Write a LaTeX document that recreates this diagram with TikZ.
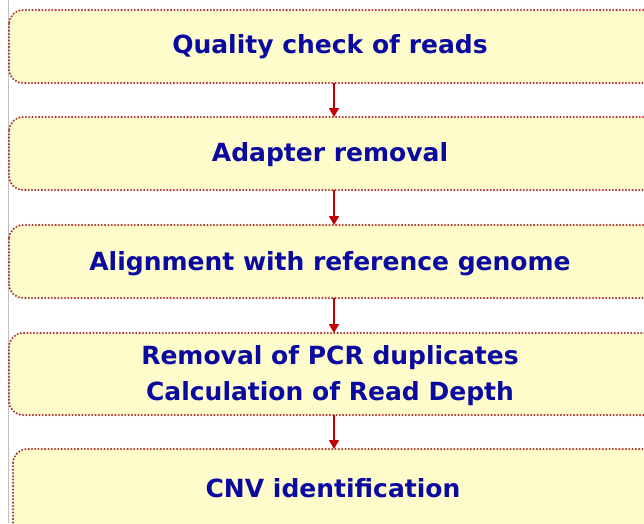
\documentclass[tikz,border=0pt]{standalone}
\usepackage{fontspec}
\setmainfont{DejaVu Sans}
\usetikzlibrary{arrows.meta}
\definecolor{boxfill}{HTML}{FFFCCC}
\definecolor{boxline}{HTML}{A83232}
\definecolor{arrowcol}{HTML}{C00000}
\definecolor{txt}{HTML}{0A0AA0}
\tikzset{
  stepbox/.style={draw=boxline, fill=boxfill, line width=2.3pt, line cap=round, dash pattern=on 0pt off 3.3pt, rounded corners=14pt},
  steptext/.style={font=\fontsize{25}{36}\selectfont\bfseries, text=txt, align=center},
  flow/.style={draw=arrowcol, line width=1.6pt, -{Triangle[length=9pt,width=10pt]}}
}
\begin{document}
\begin{tikzpicture}[x=1pt,y=-1pt]
\useasboundingbox (0,0) rectangle (644,523);
\fill[white] (0,0) rectangle (644,523);
\begin{scope}
\clip (0,0) rectangle (644,523);
\draw[gray!50, line width=1pt] (8,0) -- (8,523);
\draw[stepbox] (9,10) rectangle (680,83);
\draw[stepbox] (9,117) rectangle (680,190);
\draw[stepbox] (9,225) rectangle (680,298);
\draw[stepbox] (9,333) rectangle (680,415);
\draw[stepbox] (13,449) rectangle (680,560);
\end{scope}
\coordinate (b1) at (334,83);
\coordinate (t2) at (334,117);
\coordinate (b2) at (334,190);
\coordinate (t3) at (334,225);
\coordinate (b3) at (334,298);
\coordinate (t4) at (334,333);
\coordinate (b4) at (334,415);
\coordinate (t5) at (334,449);
\node[steptext] (n1) at (330,47) {Quality check of reads};
\node[steptext] (n2) at (330,155) {Adapter removal};
\node[steptext] (n3) at (330,264) {Alignment with reference genome};
\node[steptext] (n4) at (330,376) {Removal of PCR duplicates\\Calculation of Read Depth};
\node[steptext] (n5) at (333,488) {CNV identification};
\draw[flow] (b1) -- (t2);
\draw[flow] (b2) -- (t3);
\draw[flow] (b3) -- (t4);
\draw[flow] (b4) -- (t5);
\end{tikzpicture}
\end{document}
